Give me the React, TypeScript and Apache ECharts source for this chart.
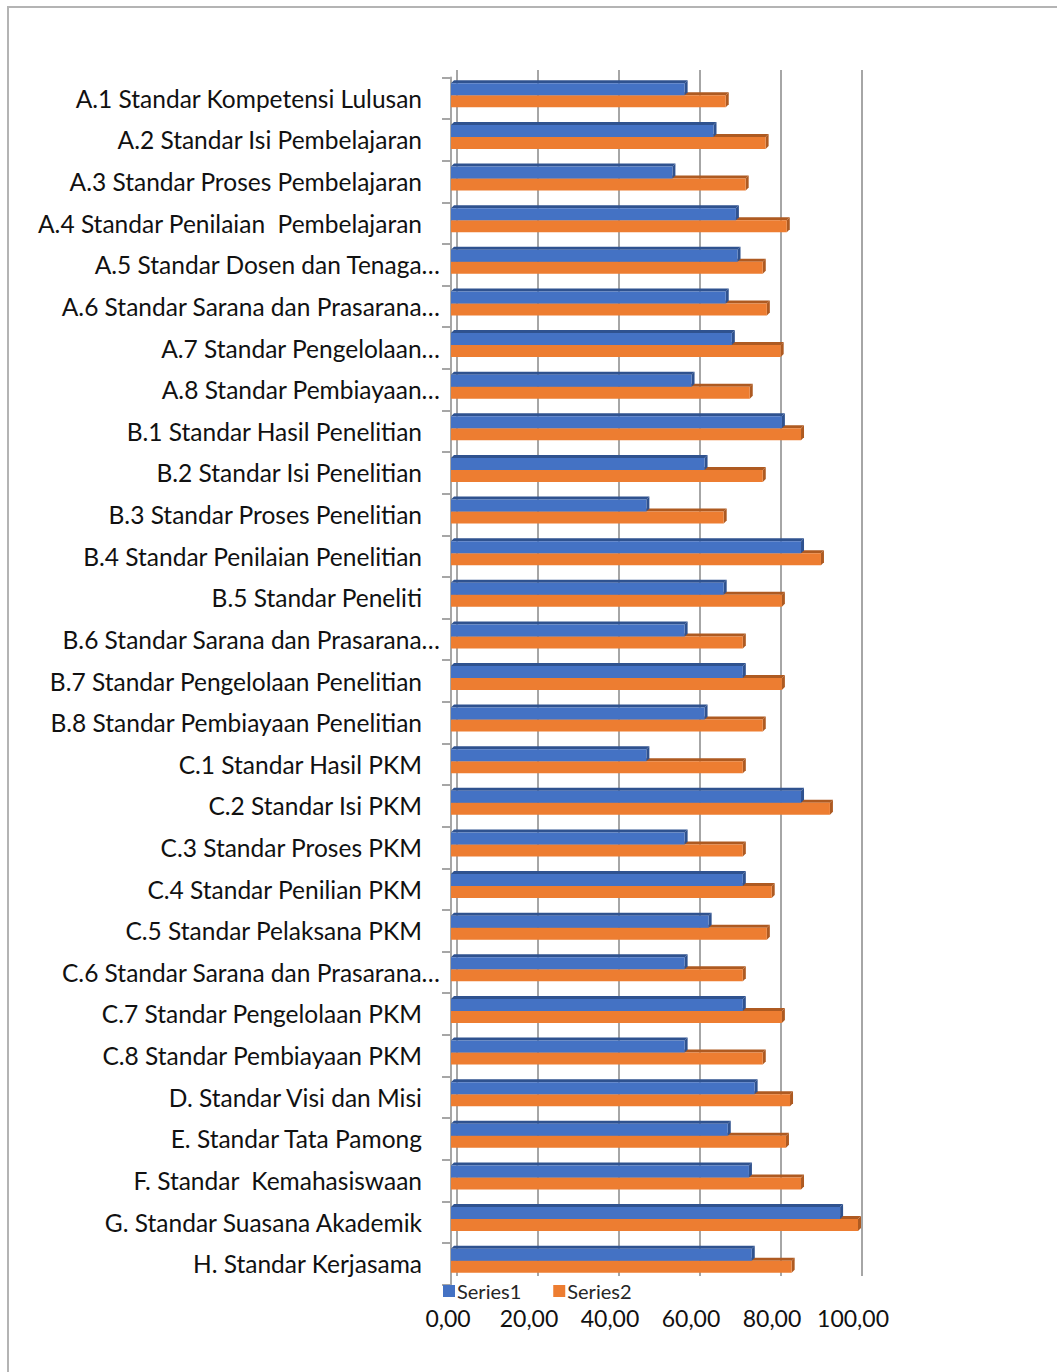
import React, { useEffect, useRef } from "react";
import * as echarts from "echarts";

const categories = [
  "A.1 Standar Kompetensi Lulusan",
  "A.2 Standar Isi Pembelajaran",
  "A.3 Standar Proses Pembelajaran",
  "A.4 Standar Penilaian  Pembelajaran",
  "A.5 Standar Dosen dan Tenaga…",
  "A.6 Standar Sarana dan Prasarana…",
  "A.7 Standar Pengelolaan…",
  "A.8 Standar Pembiayaan…",
  "B.1 Standar Hasil Penelitian",
  "B.2 Standar Isi Penelitian",
  "B.3 Standar Proses Penelitian",
  "B.4 Standar Penilaian Penelitian",
  "B.5 Standar Peneliti",
  "B.6 Standar Sarana dan Prasarana…",
  "B.7 Standar Pengelolaan Penelitian",
  "B.8 Standar Pembiayaan Penelitian",
  "C.1 Standar Hasil PKM",
  "C.2 Standar Isi PKM",
  "C.3 Standar Proses PKM",
  "C.4 Standar Penilian PKM",
  "C.5 Standar Pelaksana PKM",
  "C.6 Standar Sarana dan Prasarana…",
  "C.7 Standar Pengelolaan PKM",
  "C.8 Standar Pembiayaan PKM",
  "D. Standar Visi dan Misi",
  "E. Standar Tata Pamong",
  "F. Standar  Kemahasiswaan",
  "G. Standar Suasana Akademik",
  "H. Standar Kerjasama",
];

const series1 = [
  57.4, 64.5, 54.4, 70.0, 70.4, 67.5, 69.0, 59.1,
  81.3, 62.3, 48.0, 86.0, 67.0, 57.4, 71.7, 62.3,
  48.0, 86.0, 57.4, 71.7, 63.3, 57.4, 71.7, 57.4,
  74.6, 68.0, 73.2, 95.6, 73.9,
];

const series2 = [
  67.5, 77.3, 72.4, 82.5, 76.6, 77.6, 81.0, 73.4,
  86.0, 76.6, 67.0, 90.9, 81.3, 71.7, 81.3, 76.6,
  71.7, 93.1, 71.7, 78.8, 77.6, 71.7, 81.3, 76.6,
  83.3, 82.3, 86.0, 100.0, 83.7,
];

const seriesNames = ["Series1", "Series2"];
const xTickValues = [0, 20, 40, 60, 80, 100];
const xTickLabels = ["0,00", "20,00", "40,00", "60,00", "80,00", "100,00"];

const FONT = "Lato, 'Open Sans', sans-serif";

export default function App() {
  const ref = useRef<HTMLDivElement>(null);

  useEffect(() => {
    if (!ref.current) return;
    const chart = echarts.init(ref.current, undefined, { renderer: "svg" });

    const colors = [
      { face: "#4472C4", dark: "#2F528F" },
      { face: "#ED7D31", dark: "#AE5A21" },
    ];

    const makeRender = (s: number) => (params: any, api: any) => {
      const v = api.value(0);
      const i = api.value(1);
      const p0 = api.coord([0, i]);
      const p1 = api.coord([v, i]);
      const bw = 12;
      const d = 3;
      const shift = -3;
      const top = s === 0 ? p0[1] + shift - bw : p0[1] + shift;
      const x0 = p0[0];
      const x1 = p1[0];
      const c = colors[s];
      return {
        type: "group",
        children: [
          {
            type: "polygon",
            shape: { points: [[x0, top], [x0 + d, top - d], [x1 + d, top - d], [x1, top]] },
            style: { fill: c.dark },
          },
          {
            type: "polygon",
            shape: { points: [[x1, top], [x1 + d, top - d], [x1 + d, top + bw - d], [x1, top + bw]] },
            style: { fill: c.dark },
          },
          {
            type: "rect",
            shape: { x: x0, y: top, width: x1 - x0, height: bw },
            style: { fill: c.face },
          },
        ],
      };
    };

    const truncated = (s: string) => s.endsWith("…");

    const option: any = {
      animation: false,
      backgroundColor: "#ffffff",
      grid: [
        { left: 451, width: 407, top: 77.5, height: 1207, containLabel: false },
        { left: 457, width: 405, top: 70, height: 1206, containLabel: false },
        { left: 448, width: 405, top: 70, height: 1206, containLabel: false },
      ],
      xAxis: [
        {
          gridIndex: 0, type: "value", min: 0, max: 100, interval: 20,
          show: false, splitLine: { show: false },
        },
        {
          gridIndex: 1, type: "value", min: 0, max: 100, interval: 20,
          axisLine: { show: false }, axisTick: { show: false }, axisLabel: { show: false },
          splitLine: { show: true, lineStyle: { color: "#a6a6a6", width: 2 } },
        },
        {
          gridIndex: 2, type: "value", min: 0, max: 100, interval: 20,
          axisLine: { show: false }, axisTick: { show: false },
          splitLine: { show: false },
          axisLabel: {
            show: true, margin: 30, fontFamily: FONT, fontSize: 23, color: "#111",
            formatter: (v: number) => xTickLabels[xTickValues.indexOf(v)] ?? "",
          },
        },
      ],
      yAxis: [
        {
          gridIndex: 0, type: "category", data: categories, inverse: true,
          offset: 5,
          axisLine: { show: true, lineStyle: { color: "#a6a6a6", width: 2 } },
          axisTick: { show: true, length: 9, lineStyle: { color: "#a6a6a6", width: 2 } },
          splitLine: { show: false },
          axisLabel: {
            margin: 6, interval: 0,
            formatter: (val: string) => (truncated(val) ? `{b|${val}}` : `{a|${val}}`),
            rich: {
              a: { fontFamily: FONT, fontSize: 24.5, color: "#111", padding: [0, 18, 0, 0] },
              b: { fontFamily: FONT, fontSize: 24.5, color: "#111" },
            },
          },
        },
        { gridIndex: 1, type: "value", show: false, splitLine: { show: false } },
        { gridIndex: 2, type: "value", show: false, splitLine: { show: false } },
      ],
      legend: {
        left: 438, top: 1276, itemWidth: 12, itemHeight: 12, itemGap: 32,
        icon: "rect",
        textStyle: { fontFamily: FONT, fontSize: 20, color: "#262626", padding: [0, 0, 0, -3], lineHeight: 20 },
        data: seriesNames,
      },
      series: [
        {
          name: seriesNames[0], type: "custom", xAxisIndex: 0, yAxisIndex: 0,
          itemStyle: { color: colors[0].face }, z: 4,
          encode: { x: 0, y: 1 },
          data: series1.map((v, i) => [v, i]),
          renderItem: makeRender(0),
        },
        {
          name: seriesNames[1], type: "custom", xAxisIndex: 0, yAxisIndex: 0,
          itemStyle: { color: colors[1].face }, z: 3,
          encode: { x: 0, y: 1 },
          data: series2.map((v, i) => [v, i]),
          renderItem: makeRender(1),
        },
      ],
    };

    chart.setOption(option);
    return () => chart.dispose();
  }, []);

  return (
    <div style={{ position: "absolute", left: 0, top: 0, width: 1057, height: 1372, overflow: "hidden", background: "#fff" }}>
      <div ref={ref} style={{ position: "absolute", left: 0, top: 0, width: 1057, height: 1372 }} />
      <div
        style={{
          position: "absolute", left: 7, top: 6, width: 1100, height: 1400,
          borderTop: "2px solid #b4b4b4", borderLeft: "2px solid #b4b4b4",
          pointerEvents: "none",
        }}
      />
    </div>
  );
}
